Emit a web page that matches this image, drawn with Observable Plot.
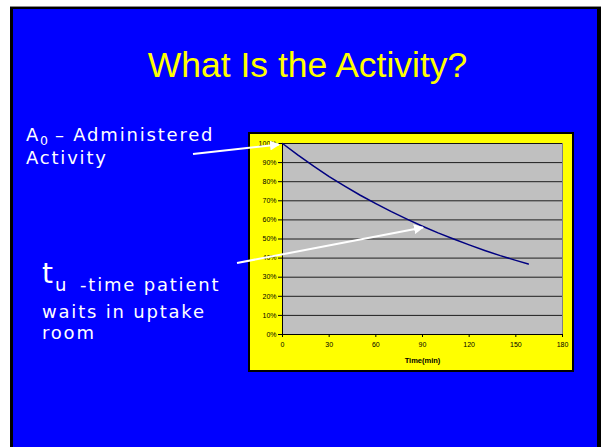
<!DOCTYPE html>
<html>
<head>
<meta charset="utf-8">
<script src="https://cdn.jsdelivr.net/npm/d3@7"></script>
<script src="https://cdn.jsdelivr.net/npm/@observablehq/plot@0.6"></script>
<style>
  html, body { margin: 0; padding: 0; background: #fff; }
  body { width: 602px; height: 447px; position: relative; overflow: hidden; font-family: "Liberation Sans", Arial, sans-serif; }
  #slide { position: absolute; left: 10px; top: 6px; width: 584px; height: 450px; background: #0000FF;
           border-top: 3px solid #000; border-left: 3px solid #000; border-right: 4px solid #000; box-sizing: content-box; }
  #topline { position: absolute; left: 10px; top: 6px; width: 591px; height: 1px; background: #8a8a8a; }
  #chart { position: absolute; left: 248px; top: 132px; border: 2px solid #000; width: 322px; height: 236px; background: #FFFF00; }
  #chart svg { display: block; }
  #overlay { position: absolute; left: 0; top: 0; }
</style>
</head>
<body>
<div id="slide"></div>
<div id="topline"></div>
<div id="chart"></div>
<svg id="overlay" width="602" height="447"></svg>
<script>
// Data (fraction of administered activity vs time, minutes)
const times  = [0, 10, 20, 30, 40, 50, 60, 70, 80, 90, 100, 110, 120, 130, 140, 150, 158];
const values = [1.000, 0.939, 0.881, 0.827, 0.777, 0.729, 0.685, 0.643, 0.604, 0.567, 0.532, 0.500, 0.469, 0.440, 0.413, 0.388, 0.369];
const xTicks = [0, 30, 60, 90, 120, 150, 180];
const yTicks = [0, 0.1, 0.2, 0.3, 0.4, 0.5, 0.6, 0.7, 0.8, 0.9, 1.0];
const xLabel = "Time(min)";
const title = "What Is the Activity?";

const data = times.map((t, i) => ({t, v: values[i]}));

const chart = Plot.plot({
  width: 322,
  height: 236,
  marginLeft: 32,
  marginRight: 10,
  marginTop: 9,
  marginBottom: 36,
  style: { background: "#FFFF00", fontFamily: "Liberation Sans, Arial, sans-serif", color: "#000", overflow: "visible" },
  x: { domain: [0, 180], ticks: xTicks, label: null },
  y: { domain: [0, 1], ticks: yTicks, label: null, tickFormat: d3.format(".0%") },
  marks: [
    Plot.frame({ fill: "#C0C0C0", stroke: "#808080" }),
    Plot.gridY(yTicks, { stroke: "#000", strokeOpacity: 0.85, strokeWidth: 1 }),
    Plot.ruleX([0], { stroke: "#000" }),
    Plot.ruleY([0], { stroke: "#000" }),
    Plot.line(data, { x: "t", y: "v", stroke: "#000080", strokeWidth: 1.5 }),
    Plot.axisY({ ticks: yTicks, tickFormat: d3.format(".0%"), tickSize: 4, tickPadding: 2, fontSize: 7, stroke: "#000" }),
    Plot.axisX({ ticks: xTicks, tickSize: 3, tickPadding: 5, fontSize: 7, stroke: "#000" }),
    Plot.text([xLabel], { frameAnchor: "bottom", dy: 28, fontSize: 7.5, fontWeight: "bold", fill: "#000" })
  ]
});
document.getElementById("chart").appendChild(chart);

// Overlay: title, annotations and arrows
const ov = d3.select("#overlay");
const defs = ov.append("defs");
defs.append("marker").attr("id", "ah").attr("viewBox", "0 0 10 10").attr("refX", 9).attr("refY", 5)
  .attr("markerWidth", 5).attr("markerHeight", 5).attr("orient", "auto")
  .append("path").attr("d", "M0,0 L10,5 L0,10 z").attr("fill", "#fff");

ov.append("text").attr("x", 307.5).attr("y", 77).attr("text-anchor", "middle")
  .attr("fill", "#FFFF00").attr("font-size", 35.5).attr("font-family", "Liberation Sans, Arial, sans-serif")
  .text(title);

const ff = "DejaVu Sans, Verdana, sans-serif";
const g = ov.append("g").attr("fill", "#fff").attr("font-family", ff).attr("font-size", 18)
  .style("letter-spacing", "1.8px");

const t1 = g.append("text").attr("y", 141);
t1.append("tspan").attr("x", 26).text("A");
t1.append("tspan").attr("x", 40).attr("dy", 4).attr("font-size", 12.5).style("letter-spacing", "0px").text("0");
t1.append("tspan").attr("x", 55).attr("dy", -4).text("– Administered");
g.append("text").attr("x", 26).attr("y", 164).text("Activity");

g.append("text").attr("x", 42).attr("y", 283).attr("font-size", 28).style("letter-spacing", "0px").text("t");
g.append("text").attr("x", 55).attr("y", 291).style("letter-spacing", "0px").text("u");
g.append("text").attr("x", 80).attr("y", 291).text("-time patient");
g.append("text").attr("x", 42).attr("y", 318).text("waits in uptake");
g.append("text").attr("x", 42).attr("y", 339).text("room");

ov.append("line").attr("x1", 193).attr("y1", 154).attr("x2", 279).attr("y2", 144.5)
  .attr("stroke", "#fff").attr("stroke-width", 2).attr("marker-end", "url(#ah)");
ov.append("line").attr("x1", 237).attr("y1", 263).attr("x2", 423).attr("y2", 227.5)
  .attr("stroke", "#fff").attr("stroke-width", 2).attr("marker-end", "url(#ah)");
</script>
</body>
</html>
